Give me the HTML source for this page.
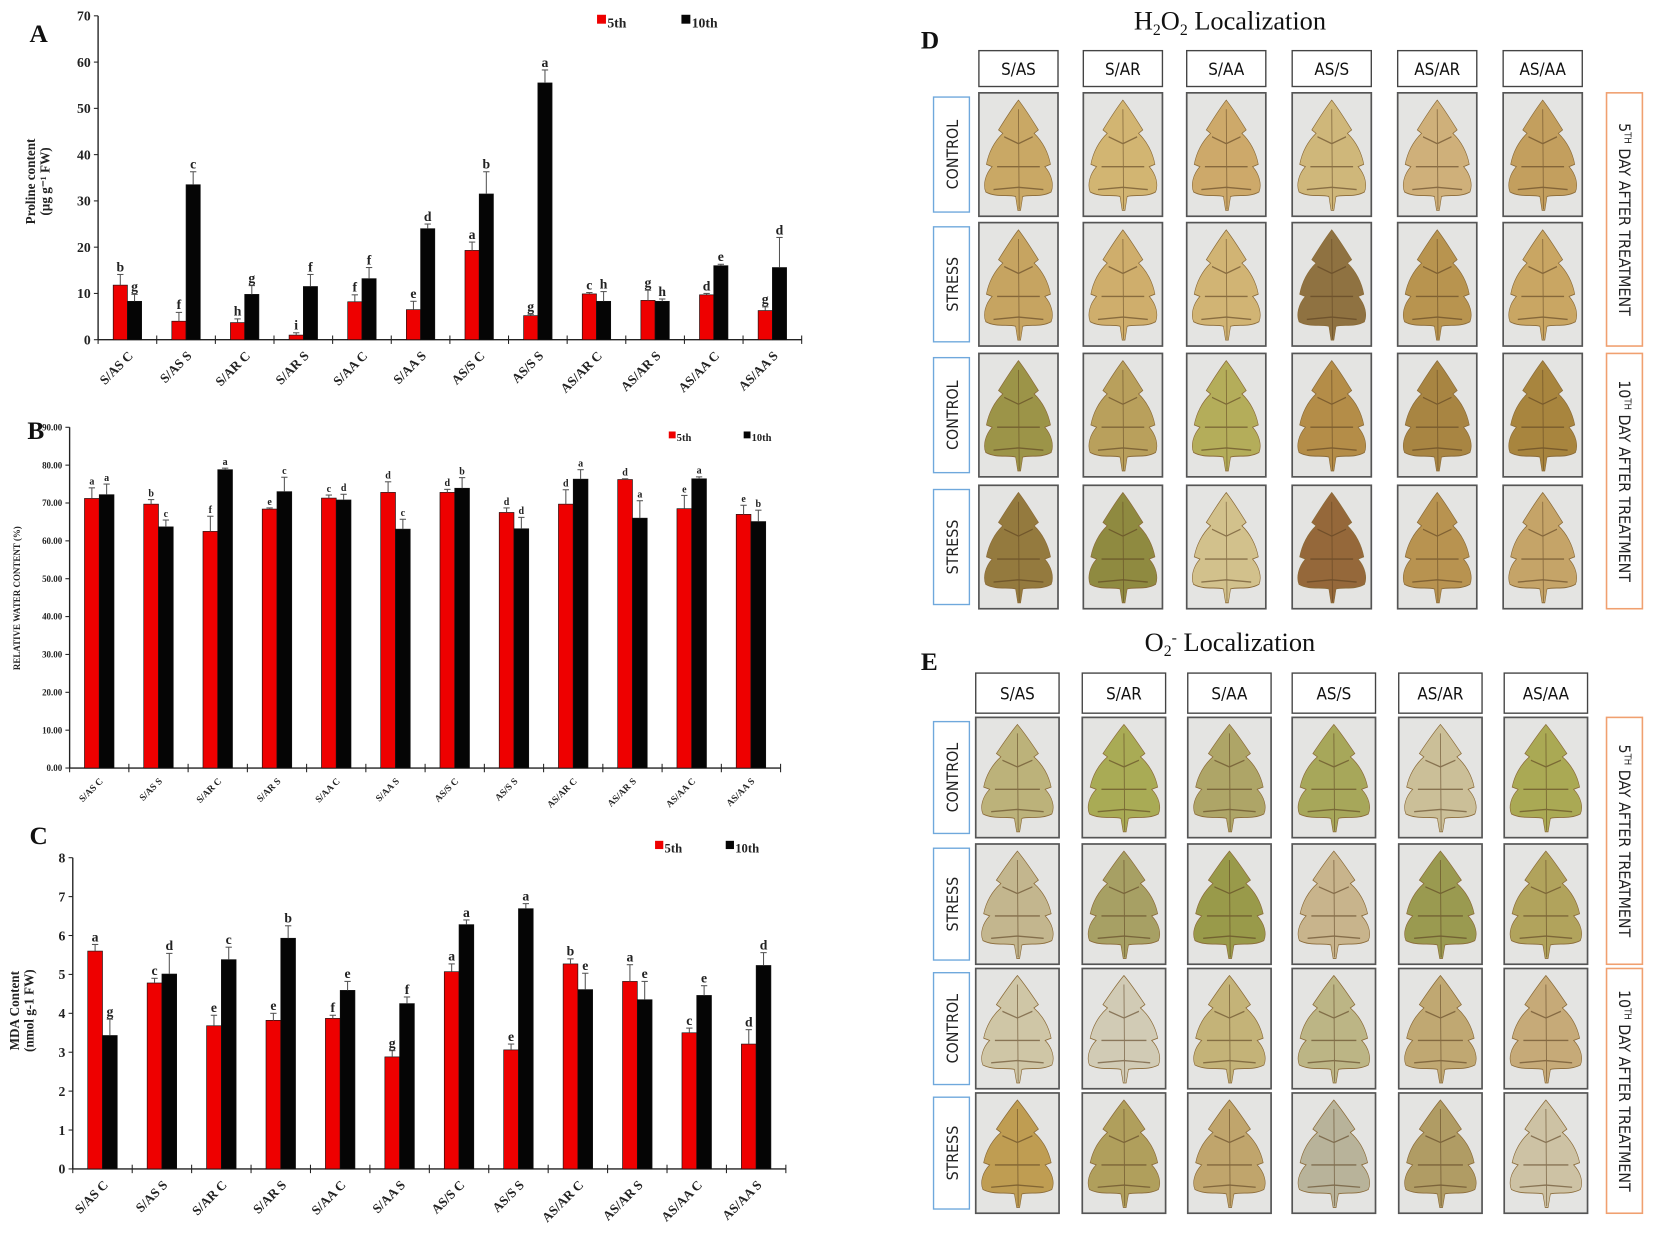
<!DOCTYPE html>
<html><head><meta charset="utf-8"><style>
html,body{margin:0;padding:0;background:#fff;}
svg{display:block;}
</style></head><body>
<svg id="fig" width="1654" height="1247" viewBox="0 0 1568 1182" preserveAspectRatio="none" xmlns="http://www.w3.org/2000/svg" font-family="Liberation Serif, serif">
<g id="charts"></g>
<g id="leaves"></g>
</svg>
<script>
const categories = ["S/AS C","S/AS S","S/AR C","S/AR S","S/AA C","S/AA S","AS/S C","AS/S S","AS/AR C","AS/AR S","AS/AA C","AS/AA S"];
const prolineDay5 = [11.8,4.0,3.7,1.0,8.2,6.5,19.3,5.2,9.9,8.5,9.7,6.3];
const prolineDay10 = [8.3,33.5,9.8,11.5,13.2,24.0,31.5,55.5,8.3,8.3,16.0,15.6];
const prolineErr5 = [2.3,1.9,0.8,0.5,1.5,1.8,1.8,0.3,0.3,2.2,0.3,0.8];
const prolineErr10 = [1.5,2.8,1.9,2.6,2.4,1.0,4.8,2.8,2.1,0.5,0.3,6.5];
const prolineLetters5 = ["b","f","h","i","f","e","a","g","c","g","d","g"];
const prolineLetters10 = ["g","c","g","f","f","d","b","a","h","h","e","d"];
const prolineTicks = [0,10,20,30,40,50,60,70];
const rwcDay5 = [71.2,69.7,62.5,68.4,71.3,72.8,72.8,67.5,69.7,76.2,68.5,67.0];
const rwcDay10 = [72.2,63.7,78.8,73.0,70.8,63.1,73.9,63.2,76.3,66.0,76.4,65.1];
const rwcErr5 = [2.8,1.2,4.0,0.3,0.8,2.8,0.8,1.2,3.8,0.2,3.5,2.4];
const rwcErr10 = [2.8,1.8,0.4,3.8,1.5,2.6,2.8,3.0,2.5,4.6,0.5,3.0];
const rwcLetters5 = ["a","b","f","e","c","d","d","d","d","d","e","e"];
const rwcLetters10 = ["a","c","a","c","d","c","b","d","a","a","a","b"];
const rwcTicks = ["0.00","10.00","20.00","30.00","40.00","50.00","60.00","70.00","80.00","90.00"];
const mdaDay5 = [5.6,4.78,3.68,3.82,3.87,2.88,5.07,3.06,5.27,4.82,3.50,3.21];
const mdaDay10 = [3.43,5.01,5.38,5.93,4.59,4.25,6.28,6.69,4.61,4.35,4.46,5.23];
const mdaErr5 = [0.17,0.12,0.27,0.18,0.08,0.16,0.2,0.15,0.13,0.43,0.12,0.37];
const mdaErr10 = [0.42,0.53,0.32,0.32,0.23,0.17,0.12,0.13,0.42,0.47,0.25,0.33];
const mdaLetters5 = ["a","c","e","e","f","g","a","e","b","a","c","d"];
const mdaLetters10 = ["g","d","c","b","e","f","a","a","e","e","e","d"];
const mdaTicks = [0,1,2,3,4,5,6,7,8];
const graftNames = ["S/AS","S/AR","S/AA","AS/S","AS/AR","AS/AA"];
const rowNames = ["CONTROL","STRESS","CONTROL","STRESS"];

const NS="http://www.w3.org/2000/svg";
function mk(tag,attrs,parent,text){const e=document.createElementNS(NS,tag);for(const k in attrs)e.setAttribute(k,attrs[k]);if(text!==undefined)e.textContent=text;parent.appendChild(e);return e;}
const charts=document.getElementById('charts');

function drawChart(cfg){
  const g=mk('g',{},charts);
  
  
  const n=categories.length, gw=(cfg.x1-cfg.x0)/n;
  const y=v=>cfg.y0-(v-cfg.vmin)/(cfg.vmax-cfg.vmin)*(cfg.y0-cfg.yTop);
  const cx=i=>cfg.x0+(i+0.5)*gw;
  const ya=mk('line',{x1:cfg.x0,y1:cfg.yTop,x2:cfg.x0,y2:cfg.y0,stroke:'#222','stroke-width':1.3},g);
  
  const xa=mk('line',{x1:cfg.x0,y1:cfg.y0,x2:cfg.x1,y2:cfg.y0,stroke:'#222','stroke-width':1.3},g);
  
  cfg.ticks.forEach(t=>{const v=parseFloat(t);const yy=y(v);
    mk('line',{x1:cfg.x0-4,y1:yy,x2:cfg.x0,y2:yy,stroke:'#222','stroke-width':1},g);
    const tl=mk('text',{x:cfg.x0-7,y:yy+cfg.tfs*0.35,'text-anchor':'end','font-size':cfg.tfs,'font-weight':'bold',fill:'#222'},g,t);
    });
  for(let i=0;i<=n;i++){const xx=cfg.x0+i*gw;mk('line',{x1:xx,y1:cfg.y0-4,x2:xx,y2:cfg.y0+4,stroke:'#222','stroke-width':1},g);}
  categories.forEach((c,i)=>{
    const bw=cfg.bw;
    [[cfg.d5,cfg.e5,cfg.l5,'#ee0000',-bw],[cfg.d10,cfg.e10,cfg.l10,'#050505',0]].forEach(([d,e,l,col,off],s)=>{
      const x=cx(i)+off, top=y(d[i]);
      const r=mk('rect',{x:x,y:top,width:bw,height:cfg.y0-top,fill:col,stroke:'#111','stroke-width':0.6},g);
      
      
      const et=y(d[i]+e[i]);
      mk('line',{x1:x+bw/2,y1:top,x2:x+bw/2,y2:et,stroke:'#555','stroke-width':1},g);
      mk('line',{x1:x+bw/2-3,y1:et,x2:x+bw/2+3,y2:et,stroke:'#555','stroke-width':1},g);
      const lt=mk('text',{x:x+bw/2,y:et-3,'text-anchor':'middle','font-size':cfg.lfs,'font-weight':'bold',fill:'#222'},g,l[i]);
      
    });
    const xl=mk('text',{x:cx(i)+cfg.xlOff,y:cfg.y0+cfg.xlDy,'text-anchor':'end','font-size':cfg.xfs,'font-weight':'bold',fill:'#222',transform:`rotate(-45 ${cx(i)+cfg.xlOff} ${cfg.y0+cfg.xlDy})`},g,c);
    
  });
  const lg=mk('g',{},g);
  mk('rect',{x:cfg.leg[0],y:cfg.leg[2]-cfg.lgs+1,width:cfg.lgs*0.65,height:cfg.lgs*0.65,fill:'#ee0000'},lg);
  mk('text',{x:cfg.leg[0]+cfg.lgs*0.75,y:cfg.leg[2],'font-size':cfg.lgs,'font-weight':'bold',fill:'#222'},lg,'5th');
  mk('rect',{x:cfg.leg[1],y:cfg.leg[2]-cfg.lgs+1,width:cfg.lgs*0.65,height:cfg.lgs*0.65,fill:'#050505'},lg);
  mk('text',{x:cfg.leg[1]+cfg.lgs*0.75,y:cfg.leg[2],'font-size':cfg.lgs,'font-weight':'bold',fill:'#222'},lg,'10th');
  const pl=mk('text',{x:cfg.pl[0],y:cfg.pl[1],'font-size':24,'font-weight':'bold',fill:'#111'},g,cfg.letter);
  
  const yt=mk('g',{transform:`translate(${cfg.yt[0]},${cfg.yt[1]}) rotate(-90)`},g);
  
  cfg.ytl.forEach((t,k)=>{mk('text',{x:0,y:k*cfg.ytfs*1.1,'text-anchor':'middle','font-size':cfg.ytfs,'font-weight':'bold',fill:'#222'},yt,t);});
}
drawChart({name:'chart-a-proline',letter:'A',pl:[28,40],x0:93,x1:760,y0:322,yTop:15,vmin:0,vmax:70,ticks:prolineTicks.map(String),
  d5:prolineDay5,d10:prolineDay10,e5:prolineErr5,e10:prolineErr10,l5:prolineLetters5,l10:prolineLetters10,
  bw:13.5,tfs:13,lfs:13,xfs:12.5,xlOff:6,xlDy:16,leg:[566,646,26],lgs:13,yt:[33,172],ytl:['Proline content','(µg g⁻¹ FW)'],ytfs:12.5});
drawChart({name:'chart-b-relative-water-content',letter:'B',pl:[26,416],x0:66,x1:740,y0:728,yTop:405,vmin:0,vmax:90,ticks:rwcTicks,
  d5:rwcDay5,d10:rwcDay10,e5:rwcErr5,e10:rwcErr10,l5:rwcLetters5,l10:rwcLetters10,
  bw:14,tfs:8.5,lfs:9.5,xfs:9,xlOff:4,xlDy:13,leg:[634,705,418],lgs:10,yt:[19,567],ytl:['RELATIVE WATER CONTENT (%)'],ytfs:8.5});
drawChart({name:'chart-c-mda-content',letter:'C',pl:[28,800],x0:69,x1:745,y0:1108,yTop:813,vmin:0,vmax:8,ticks:mdaTicks.map(String),
  d5:mdaDay5,d10:mdaDay10,e5:mdaErr5,e10:mdaErr10,l5:mdaLetters5,l10:mdaLetters10,
  bw:14,tfs:13,lfs:13,xfs:12.5,xlOff:6,xlDy:16,leg:[621,688,808],lgs:12,yt:[18,958],ytl:['MDA Content','(nmol g-1 FW)'],ytfs:12.5});

const leaves=document.getElementById('leaves');
const leafPath="M .5 .02 C .6 .1 .7 .2 .78 .28 L .72 .31 C .84 .38 .92 .48 .95 .58 L .87 .6 C .97 .67 1 .76 .96 .82 C .82 .87 .66 .84 .56 .86 L .53 .98 L .49 .98 L .46 .86 C .36 .84 .18 .87 .04 .82 C 0 .76 .03 .67 .13 .6 L .05 .58 C .08 .48 .16 .38 .28 .31 L .22 .28 C .3 .2 .4 .1 .5 .02 Z";
const dColors=[["#c9a865","#d2b572","#cda96a","#cfb77a","#cfb07a","#c39f5e"],["#c6a461","#cfae6c","#d1b474","#8f7241","#b8944f","#c9a663"],["#9c9448","#b9a05c","#b4ad5a","#b48d48","#a88542","#a8853e"],["#947a3e","#8f8a40","#d2c18c","#95683a","#b89350","#c5a468"]];
const eColors=[["#bcb27a","#a9ab55","#aea567","#a7a75a","#cbbf98","#aaa954"],["#c3b68e","#a7a064","#999a4a","#c8b48c","#9a9a50","#b1a35c"],["#cfc6a6","#d1cbb5","#c4b378","#bcb585","#c0a872","#c6aa78"],["#bf9d52","#b09f5c","#c0a56c","#b8b39a","#b09c64","#cdc2a4"]];
function panel(p){
  const g=mk('g',{},leaves);
  
  const pl=mk('text',{x:p.letterX,y:p.letterY,'font-size':24,'font-weight':'bold',fill:'#111'},g,p.letter);
  
  const tt=mk('text',{x:1166,y:p.titleY,'text-anchor':'middle','font-size':25,fill:'#111'},g);
  
  p.title.forEach(([t,fs,dy])=>{const a={'font-size':fs};if(dy)a.dy=dy;mk('tspan',a,tt,t);});
  graftNames.forEach((gn,c)=>{
    const x=p.colX[c];
    const hb=mk('rect',{x:x,y:p.headY,width:p.w,height:p.headH,fill:'#fff',stroke:'#444','stroke-width':1.3},g);
    
    const ht=mk('text',{x:x+p.w/2,y:p.headY+p.headH/2+6,'text-anchor':'middle','font-size':16,'font-family':'DejaVu Sans Condensed, DejaVu Sans, sans-serif',fill:'#111'},g,gn);
    
    p.rowY.forEach((ry,r)=>{
      const lb=mk('rect',{x:x,y:ry,width:p.w,height:p.h,fill:'#e4e4e2',stroke:'#555','stroke-width':1.6},g);
      
      const tr=`translate(${x+p.w*0.05},${ry+p.h*0.04}) scale(${p.w*0.9},${p.h*0.93})`;
      const lf=mk('path',{d:leafPath,fill:p.colors[r][c],stroke:'#8a6a38','stroke-width':0.008,transform:tr},g);
      
      mk('path',{d:"M .5 .1 L .51 .97 M .5 .4 L .3 .34 M .5 .4 L .7 .34 M .5 .6 L .2 .6 M .5 .6 L .8 .6 M .5 .78 L .15 .8 M .5 .78 L .85 .8",fill:'none',stroke:'#5a4020','stroke-width':0.012,opacity:0.6,transform:tr},g);
    });
  });
  p.rowY.forEach((ry,r)=>{
    const rb=mk('rect',{x:885,y:ry+4,width:34,height:p.h-8,fill:'#fff',stroke:'#6fa8dc','stroke-width':1.3},g);
    
    const rt=mk('text',{x:0,y:0,'text-anchor':'middle','font-size':15,'font-family':'DejaVu Sans Condensed, DejaVu Sans, sans-serif',fill:'#222',transform:`translate(${908},${ry+p.h/2}) rotate(-90)`},g,rowNames[r]);
    
  });
  [[0,'5',p.rowY[0],p.rowY[1]+p.h],[1,'10',p.rowY[2],p.rowY[3]+p.h]].forEach(([k,num,y1,y2])=>{
    const ob=mk('rect',{x:1523,y:y1,width:34,height:y2-y1,fill:'#fff',stroke:'#f0a070','stroke-width':1.5},g);
    
    const ot=mk('text',{x:0,y:0,'text-anchor':'middle','font-size':15,'font-family':'DejaVu Sans Condensed, DejaVu Sans, sans-serif',fill:'#222',transform:`translate(${1535},${(y1+y2)/2}) rotate(90)`},g);
    
    mk('tspan',{},ot,num);mk('tspan',{'font-size':9,dy:-5},ot,'TH');mk('tspan',{dy:5},ot,' DAY AFTER TREATMENT');
  });
}
panel({name:'panel-d-h2o2',letter:'D',letterX:873,letterY:46,titleY:28,title:[['H',25,0],['2',15,5],['O',25,-5],['2',15,5],[' Localization',25,-5]],
  colX:[928,1027,1125,1225,1325,1425],w:75,headY:48,headH:34,rowY:[88,211,335,460],h:117,colors:dColors});
panel({name:'panel-e-o2',letter:'E',letterX:873,letterY:635,titleY:617,title:[['O',25,0],['2',15,5],['-',15,-13],[' Localization',25,8]],
  colX:[925,1026,1126,1225,1326,1426],w:79,headY:638,headH:38,rowY:[680,800,918,1036],h:114,colors:eColors});
</script>
</body></html>
